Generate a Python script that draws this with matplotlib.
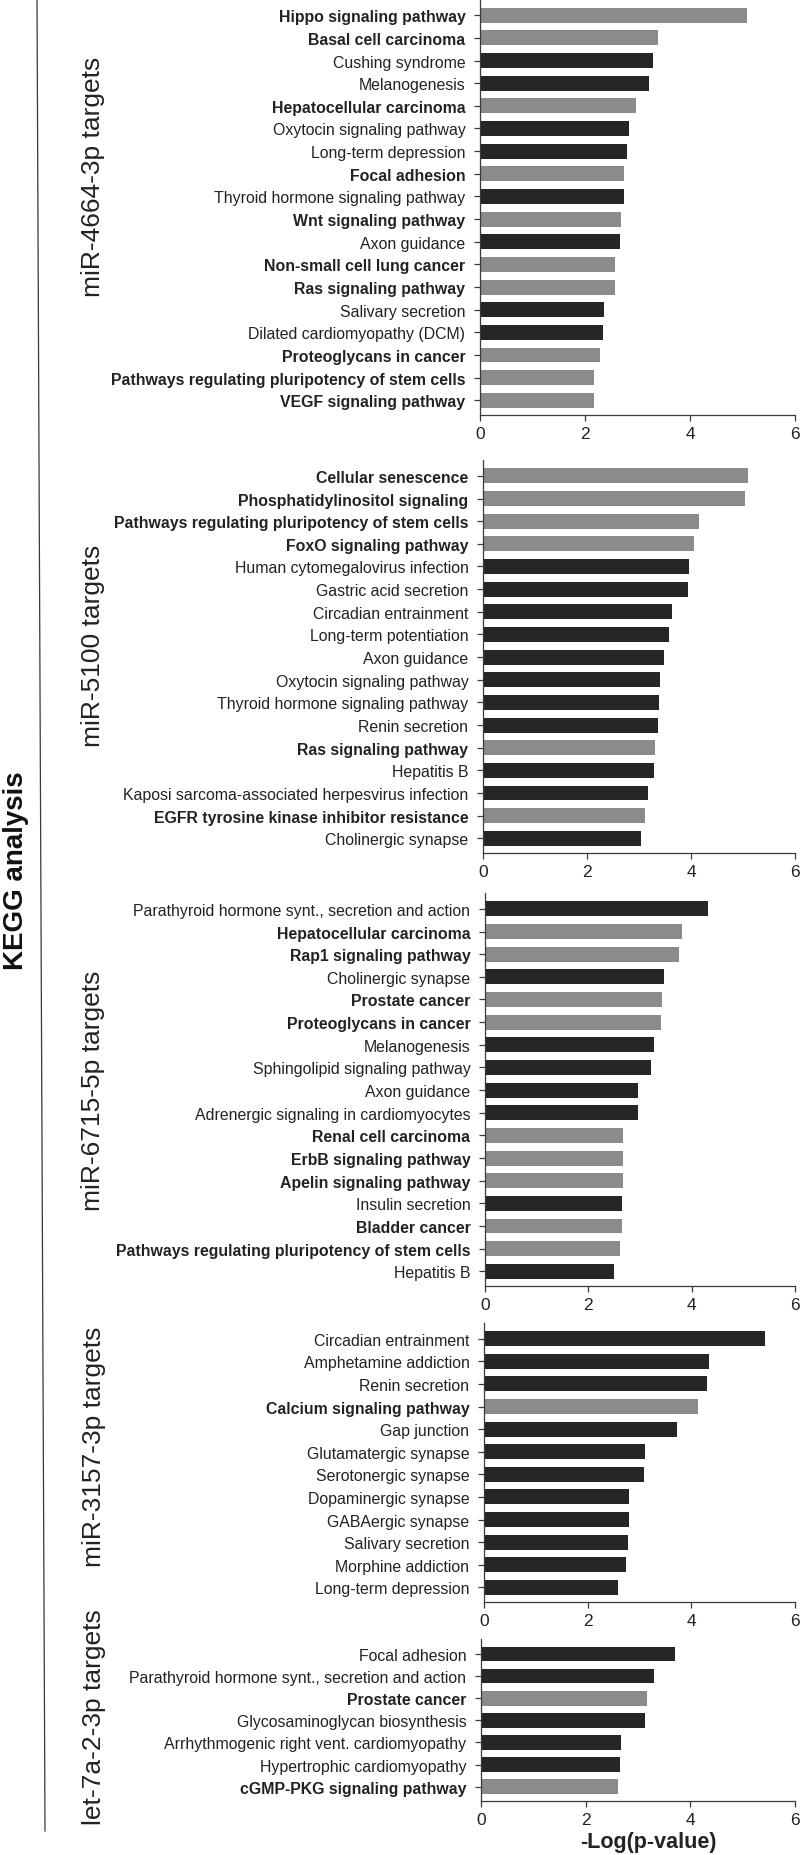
import numpy as np
import matplotlib
matplotlib.use('Agg')
import matplotlib.pyplot as plt
from matplotlib.lines import Line2D

plt.rcParams['font.family'] = ['Liberation Sans', 'DejaVu Sans']

# miR-4664-3p
nombres_4664 = ['Hippo signaling pathway', 'Basal cell carcinoma', 'Cushing syndrome', 'Melanogenesis',
                'Hepatocellular carcinoma', 'Oxytocin signaling pathway', 'Long-term depression',
                'Focal adhesion', 'Thyroid hormone signaling pathway', 'Wnt signaling pathway',
                'Axon guidance', 'Non-small cell lung cancer', 'Ras signaling pathway',
                'Salivary secretion', 'Dilated cardiomyopathy (DCM)', 'Proteoglycans in cancer',
                'Pathways regulating pluripotency of stem cells', 'VEGF signaling pathway']
valores_4664 = [5.09, 3.39, 3.30, 3.21, 2.97, 2.83, 2.80, 2.75, 2.74, 2.69, 2.67, 2.57, 2.57,
                2.37, 2.34, 2.28, 2.17, 2.17]
resaltar_4664 = [1, 1, 0, 0, 1, 0, 0, 1, 0, 1, 0, 1, 1, 0, 0, 1, 1, 1]

# miR-5100
nombres_5100 = ['Cellular senescence', 'Phosphatidylinositol signaling',
                'Pathways regulating pluripotency of stem cells', 'FoxO signaling pathway',
                'Human cytomegalovirus infection', 'Gastric acid secretion', 'Circadian entrainment',
                'Long-term potentiation', 'Axon guidance', 'Oxytocin signaling pathway',
                'Thyroid hormone signaling pathway', 'Renin secretion', 'Ras signaling pathway',
                'Hepatitis B', 'Kaposi sarcoma-associated herpesvirus infection',
                'EGFR tyrosine kinase inhibitor resistance', 'Cholinergic synapse']
valores_5100 = [5.10, 5.04, 4.15, 4.05, 3.96, 3.95, 3.64, 3.58, 3.49, 3.40, 3.39, 3.36, 3.31,
                3.28, 3.18, 3.12, 3.03]
resaltar_5100 = [1, 1, 1, 1, 0, 0, 0, 0, 0, 0, 0, 0, 1, 0, 0, 1, 0]

# miR-6715-5p
nombres_6715 = ['Parathyroid hormone synt., secretion and action', 'Hepatocellular carcinoma',
                'Rap1 signaling pathway', 'Cholinergic synapse', 'Prostate cancer',
                'Proteoglycans in cancer', 'Melanogenesis', 'Sphingolipid signaling pathway',
                'Axon guidance', 'Adrenergic signaling in cardiomyocytes', 'Renal cell carcinoma',
                'ErbB signaling pathway', 'Apelin signaling pathway', 'Insulin secretion',
                'Bladder cancer', 'Pathways regulating pluripotency of stem cells', 'Hepatitis B']
valores_6715 = [4.32, 3.82, 3.75, 3.46, 3.42, 3.40, 3.27, 3.22, 2.97, 2.96, 2.68, 2.68, 2.67,
                2.65, 2.65, 2.62, 2.50]
resaltar_6715 = [0, 1, 1, 0, 1, 1, 0, 0, 0, 0, 1, 1, 1, 0, 1, 1, 0]

# miR-3157-3p
nombres_3157 = ['Circadian entrainment', 'Amphetamine addiction', 'Renin secretion',
                'Calcium signaling pathway', 'Gap junction', 'Glutamatergic synapse',
                'Serotonergic synapse', 'Dopaminergic synapse', 'GABAergic synapse',
                'Salivary secretion', 'Morphine addiction', 'Long-term depression']
valores_3157 = [5.42, 4.35, 4.31, 4.12, 3.72, 3.11, 3.09, 2.80, 2.79, 2.77, 2.74, 2.58]
resaltar_3157 = [0, 0, 0, 1, 0, 0, 0, 0, 0, 0, 0, 0]

# let-7a-2-3p
nombres_let7 = ['Focal adhesion', 'Parathyroid hormone synt., secretion and action',
                'Prostate cancer', 'Glycosaminoglycan biosynthesis',
                'Arrhythmogenic right vent. cardiomyopathy', 'Hypertrophic cardiomyopathy',
                'cGMP-PKG signaling pathway']
valores_let7 = [3.71, 3.31, 3.17, 3.13, 2.68, 2.65, 2.62]
resaltar_let7 = [0, 0, 1, 0, 0, 0, 1]

titulos = ['miR-4664-3p targets', 'miR-5100 targets', 'miR-6715-5p targets',
           'miR-3157-3p targets', 'let-7a-2-3p targets']
ticks_x = [0, 2, 4, 6]

paneles = [
    (nombres_4664, valores_4664, resaltar_4664),
    (nombres_5100, valores_5100, resaltar_5100),
    (nombres_6715, valores_6715, resaltar_6715),
    (nombres_3157, valores_3157, resaltar_3157),
    (nombres_let7, valores_let7, resaltar_let7),
]

W, H = 800, 1856
# borde inferior del eje (px), izquierda (px), separacion entre barras (px)
ejes_y = [416, 854, 1287, 1603, 1802]
ejes_x = [480, 483, 485, 484, 481]
separacion = [22.65, 22.65, 22.65, 22.6, 22.1]
titulo_y = [177, 646, 1091, 1447, 1717]
titulo_x = [93, 93, 93, 94, 94]

OSCURO = '#262626'
GRIS = '#8b8b8d'
LINEA = '#3a3a3a'

fig = plt.figure(figsize=(W / 100, H / 100), dpi=100)

for i, (nombres, valores, resaltar) in enumerate(paneles):
    n = len(nombres)
    alto = (n - 1 + 1.35) * separacion[i]
    izq = ejes_x[i]
    ax = fig.add_axes([izq / W, 1 - ejes_y[i] / H, (795 - izq) / W, alto / H])
    y = np.arange(n)
    colores = [GRIS if r else OSCURO for r in resaltar]
    ax.barh(y, valores, height=0.66, color=colores, edgecolor='none')
    ax.set_ylim(n - 1 + 0.65, -0.7)
    ax.set_xlim(0, 6)
    ax.set_xticks(ticks_x)
    ax.set_xticklabels([str(t) for t in ticks_x], fontsize=12.5, color='#222222')
    ax.set_yticks(y)
    ax.set_yticklabels(nombres, fontsize=11.4, color='#222222')
    for etiqueta, r in zip(ax.get_yticklabels(), resaltar):
        if r:
            etiqueta.set_fontweight('bold')
    for lado in ['top', 'right']:
        ax.spines[lado].set_visible(False)
    for lado in ['left', 'bottom']:
        ax.spines[lado].set_color(LINEA)
        ax.spines[lado].set_linewidth(0.9)
    ax.tick_params(axis='y', length=4, width=0.9, color=LINEA, pad=6.5)
    ax.tick_params(axis='x', length=4, width=0.9, color=LINEA, pad=4)
    fig.text(titulo_x[i] / W, 1 - titulo_y[i] / H, titulos[i], rotation=90, fontsize=19,
             ha='center', va='center', color='#222222')

# linea vertical izquierda (ligeramente inclinada como en el original)
fig.add_artist(Line2D([37 / W, 45 / W], [1, 1 - 1832 / H], color=LINEA, linewidth=0.9))
fig.text(16 / W, 1 - 871 / H, 'KEGG analysis', rotation=90, fontsize=20, fontweight='bold',
         ha='center', va='center', color='#111111')
fig.text(648 / W, 1 - 1843 / H, '-Log(p-value)', fontsize=15.5, fontweight='bold',
         ha='center', va='center', color='#222222')

fig.savefig('out.png', dpi=100)
